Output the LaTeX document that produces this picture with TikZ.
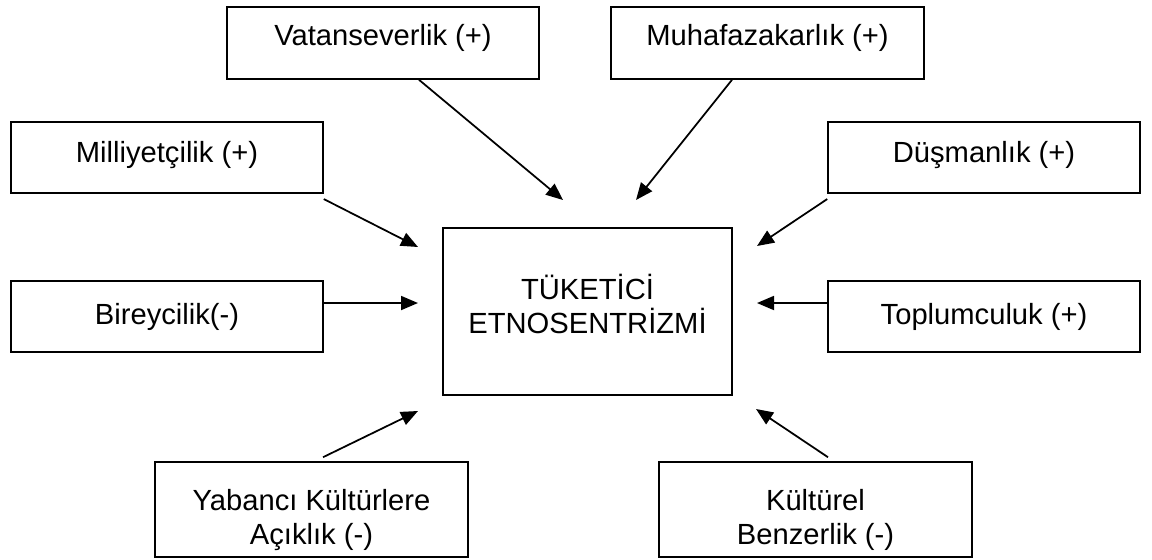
\documentclass[tikz,border=0pt]{standalone}
\usepackage{fontspec}
\setmainfont{Liberation Sans}
\usetikzlibrary{arrows.meta}
\begin{document}
\begin{tikzpicture}[x=0.02cm,y=-0.02cm,>={Triangle[length=0.34cm,width=0.28cm]},
	box/.style={draw,line width=0.9pt,minimum width=6.24cm,minimum height=1.43cm,inner sep=0pt,align=center,font=\fontsize{16.6}{19}\selectfont},
	lowbox/.style={box,minimum height=1.9cm,text height=1.5cm,text depth=0.12cm},
	arr/.style={->,line width=1pt}]
				\useasboundingbox (0,0) rectangle (1152,559);
				\node[box,minimum width=5.78cm,minimum height=3.34cm,text height=1.14cm,text depth=0.28cm] (cen) at (587.5,311.5) {TÜKETİCİ\\ETNOSENTRİZMİ};
				\node[box,minimum height=1.44cm,text height=0.42cm,text depth=0.34cm] (vat) at (383,43) {Vatanseverlik (+)};
				\node[box,minimum width=6.26cm,minimum height=1.44cm,text height=0.42cm,text depth=0.34cm] (muh) at (767.5,43) {Muhafazakarlık (+)};
				\node[box,text height=0.42cm,text depth=0.24cm] (mil) at (167,157.5) {Milliyetçilik (+)};
				\node[box,text height=0.42cm,text depth=0.24cm] (dus) at (984,157.5) {Düşmanlık (+)};
				\node[box] (bir) at (167,316.5) {Bireycilik(-)};
				\node[box] (top) at (984,316.5) {Toplumculuk (+)};
				\node[lowbox,minimum width=6.26cm] (yab) at (311.5,509.5) {Yabancı Kültürlere\\Açıklık (-)};
				\node[lowbox,minimum width=6.26cm] (kul) at (815.5,509.5) {Kültürel\\Benzerlik (-)};
				\coordinate (vatend) at (563,200);
				\coordinate (muhend) at (636,200);
				\coordinate (milend) at (418,247);
				\coordinate (dusend) at (757,246);
				\coordinate (birend) at (418,303);
				\coordinate (topend) at (757,303);
				\coordinate (yabend) at (418,411);
				\coordinate (kulend) at (756,409);
				\draw[arr] ([xshift=0.72cm]vat.south) -- (vatend);
				\draw[arr] ([xshift=-0.71cm]muh.south) -- (muhend);
				\draw[arr] ([yshift=-0.1cm]mil.south east) -- (milend);
				\draw[arr] ([yshift=-0.1cm]dus.south west) -- (dusend);
				\draw[arr] ([yshift=0.27cm]bir.east) -- (birend);
				\draw[arr] ([yshift=0.27cm]top.west) -- (topend);
				\draw[arr] ([xshift=0.23cm,yshift=0.08cm]yab.north) -- (yabend);
				\draw[arr] ([xshift=0.25cm,yshift=0.08cm]kul.north) -- (kulend);
		\end{tikzpicture}
\end{document}
